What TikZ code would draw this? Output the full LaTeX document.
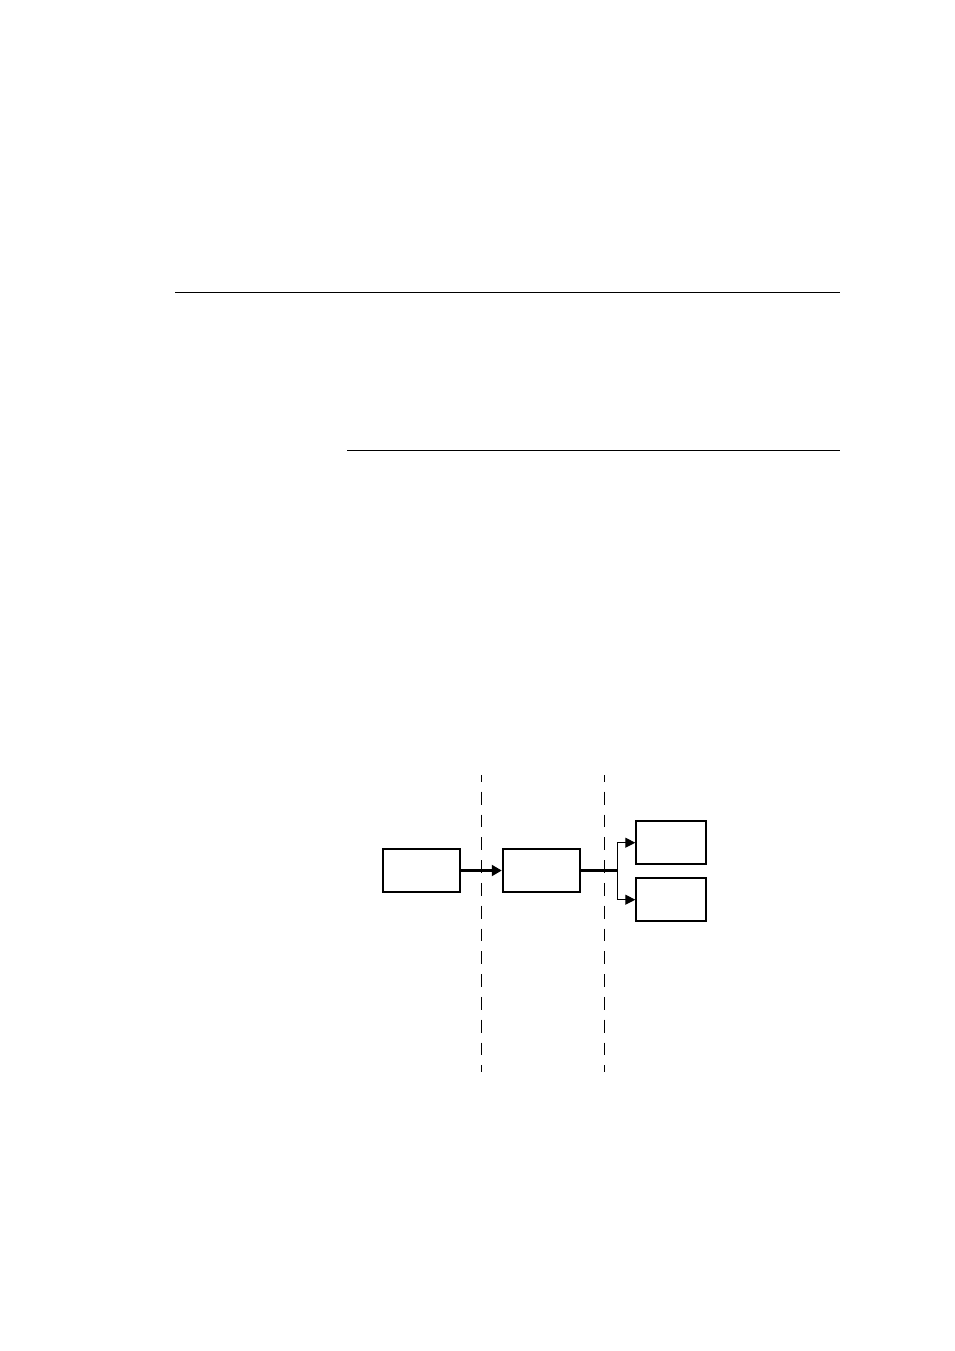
\documentclass[tikz,border=0pt]{standalone}
\usetikzlibrary{arrows.meta}
\begin{document}
\begin{tikzpicture}[x=1pt,y=-1pt,
  blk/.style={draw=black,line width=2.1pt,minimum width=77.2pt,minimum height=43.5pt,inner sep=0pt},
  smallblk/.style={draw=black,line width=2.1pt,minimum width=69.9pt,minimum height=43.3pt,inner sep=0pt},
  rule/.style={line width=1pt},
  zone/.style={line width=1pt,dash pattern=on 12.8pt off 10pt,dash phase=6.1pt},
  thickarrow/.style={line width=2.1pt,-{Triangle[length=10pt,width=11pt]}},
  thinarrow/.style={line width=1.1pt,-{Triangle[length=10pt,width=10pt]}}]
\useasboundingbox (0,0) rectangle (954,1351);
% horizontal rules
\draw[rule] (175,292) -- (840,292);
\draw[rule] (347,450) -- (840,450);
% dashed separators
\draw[zone] (481.7,775) -- (481.7,1071.7);
\draw[zone] (604.3,775) -- (604.3,1071.7);
% blocks
\node[blk] (b1) at (421.3,870.5) {};
\node[blk] (b2) at (541.4,870.5) {};
\node[smallblk] (b3) at (671.3,842.7) {};
\node[smallblk] (b4) at (671.3,899.7) {};
\coordinate (j) at (617.3,870.5);
% connectors
\draw[thickarrow] (b1.east) -- (b2.west);
\draw[line width=2.1pt] (b2.east) -- (j);
\draw[thinarrow] (j) |- (b3.west);
\draw[thinarrow] (j) |- (b4.west);
\end{tikzpicture}
\end{document}
